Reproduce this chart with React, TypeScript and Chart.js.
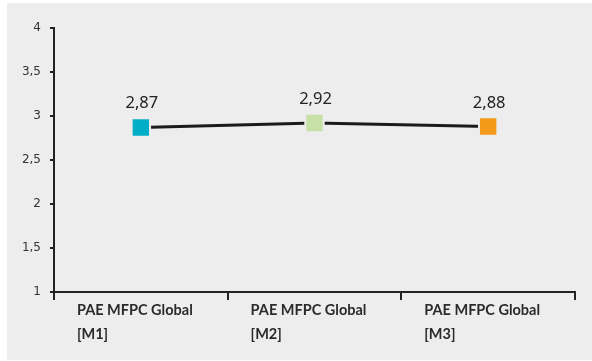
import React, { useEffect, useRef } from "react";
import { Chart, registerables } from "chart.js";

Chart.register(...registerables);

const categories: string[][] = [
  ["PAE MFPC Global", "[M1]"],
  ["PAE MFPC Global", "[M2]"],
  ["PAE MFPC Global", "[M3]"],
];
const values: number[] = [2.87, 2.92, 2.88];
const pointColors: string[] = ["#00aec7", "#c6e0a6", "#f39a1b"];
const yMin = 1;
const yMax = 4;
const yStep = 0.5;

const BG = "#ededed";

const fmt = (v: number) => String(v).replace(".", ",");

const dataLabelPlugin = {
  id: "dataLabels",
  afterDatasetsDraw(chart: any) {
    const ctx = chart.ctx;
    const meta = chart.getDatasetMeta(0);
    ctx.save();
    ctx.font = "16.5px 'Noto Sans'";
    ctx.fillStyle = "#222";
    ctx.textAlign = "center";
    ctx.textBaseline = "alphabetic";
    meta.data.forEach((el: any, i: number) => {
      ctx.fillText(fmt(values[i]), el.x + 1, el.y - 19);
    });
    ctx.restore();
  },
};

const xLabelPlugin = {
  id: "xLabels",
  afterDraw(chart: any) {
    const ctx = chart.ctx;
    const xs = chart.scales.x;
    const top = xs.top;
    ctx.save();
    ctx.font = "bold 14.5px Lato";
    ctx.fillStyle = "#2b2b2b";
    ctx.textAlign = "left";
    ctx.textBaseline = "alphabetic";
    categories.forEach((lines, i) => {
      const cx = xs.getPixelForValue(i);
      const w = ctx.measureText(lines[0]).width;
      const left = cx - w / 2 - 6;
      lines.forEach((line, j) => {
        ctx.fillText(line, left, top + 23 + j * 24);
      });
    });
    ctx.restore();
  },
};

export default function App() {
  const ref = useRef<HTMLCanvasElement | null>(null);

  useEffect(() => {
    if (!ref.current) return;
    const chart = new Chart(ref.current, {
      type: "line",
      data: {
        labels: categories.map((c) => c.join(" ")),
        datasets: [
          {
            data: values,
            borderColor: "#1a1a1a",
            borderWidth: 3,
            pointStyle: "rect",
            pointRadius: 13,
            pointHoverRadius: 13,
            pointBackgroundColor: pointColors,
            pointBorderColor: BG,
            pointBorderWidth: 2,
            tension: 0,
          },
        ],
      },
      options: {
        animation: false,
        responsive: false,
        maintainAspectRatio: false,
        events: [],
        layout: { padding: { top: 25, right: 17, left: 0, bottom: 0 } },
        plugins: {
          legend: { display: false },
          tooltip: { enabled: false },
        },
        scales: {
          x: {
            offset: true,
            grid: {
              offset: true,
              drawOnChartArea: false,
              drawTicks: true,
              tickLength: 8,
              color: "#222",
              lineWidth: 2,
            },
            border: { color: "#222", width: 2 },
            ticks: { color: "rgba(0,0,0,0)", font: { size: 13 } },
            afterFit: (s: any) => {
              s.height = 68;
            },
          },
          y: {
            min: yMin,
            max: yMax,
            grid: {
              drawOnChartArea: false,
              drawTicks: true,
              tickLength: 4,
              color: "#222",
              lineWidth: 2,
            },
            border: { color: "#222", width: 2 },
            ticks: {
              stepSize: yStep,
              padding: 9,
              color: "#333",
              font: { family: "'DejaVu Sans'", size: 12 },
              callback: (v: any) => fmt(Number(v)),
            },
            afterFit: (s: any) => {
              s.width = 47;
            },
          },
        },
      },
      plugins: [dataLabelPlugin, xLabelPlugin],
    });
    return () => chart.destroy();
  }, []);

  return (
    <div
      style={{
        position: "fixed",
        left: 7,
        top: 3,
        width: 585,
        height: 357,
        background: BG,
      }}
    >
      <canvas ref={ref} width={585} height={357} style={{ display: "block" }} />
    </div>
  );
}
